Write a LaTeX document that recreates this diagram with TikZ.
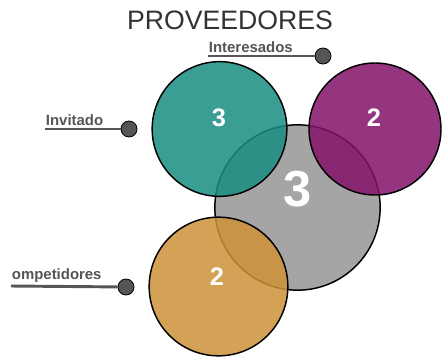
\documentclass[tikz,border=0pt]{standalone}
\usepackage{fontspec}
\setmainfont{Liberation Sans}
\usetikzlibrary{positioning}
\definecolor{verdeazul}{RGB}{24,141,129}
\definecolor{morado}{RGB}{131,18,106}
\definecolor{naranja}{RGB}{205,146,56}
\definecolor{gris}{RGB}{165,165,165}
\definecolor{oscuro}{RGB}{85,85,85}
\tikzset{
	circulo/.style={circle, draw=black, line width=1.1pt, inner sep=0pt}, % Circulos del diagrama
	transp/.style={fill opacity=0.85}, % Circulos que se superponen
	numero/.style={text=white, font=\bfseries\fontsize{19}{19}\selectfont}, % Cifras blancas
	punto/.style={circle, fill=oscuro, draw=black, line width=0.6pt, minimum size=12pt, inner sep=0pt}, % Extremo de la linea
	linea/.style={draw=oscuro, line width=2.2pt}, % Linea de la etiqueta
	etiqueta/.style={text=oscuro, font=\bfseries\fontsize{11.2}{11.2}\selectfont, inner xsep=0.5pt, inner ysep=2.5pt} % Texto sobre la linea
}

\begin{document}
\begin{tikzpicture}[x=0.75pt, y=-0.75pt]
			\useasboundingbox (0,0) rectangle (446,361);
			\node[text=black!80, font=\fontsize{20}{20}\selectfont] (titulo) at (230,20) {PROVEEDORES};
			% circulos
			\node[circulo, fill=gris, minimum size=124pt] (cGris) at (297.5,207.5) {};
			\node[circulo, transp, fill=verdeazul, minimum size=101pt] (cVerde) at (219.5,129) {};
			\node[circulo, transp, fill=morado, minimum size=99pt] (cMorado) at (375,129) {};
			\node[circulo, transp, fill=naranja, minimum size=104pt] (cNaranja) at (218.5,286.5) {};
			% cifras
			\node[numero] (nVerde) at (219,118) {3};
			\node[numero] (nMorado) at (374,118) {2};
			\node[numero] (nNaranja) at (217,277) {2};
			\node[numero, font=\bfseries\fontsize{38}{38}\selectfont] (nGris) at (298,189) {3};
			% etiquetas
			\node[punto] (pInteresados) at (323,56) {};
			\node[punto] (pInvitado) at (129,129) {};
			\node[punto] (pCompetidores) at (126,287) {};
			\coordinate (aInteresados) at (208,56);
			\coordinate (aInvitado) at (45,129);
			\coordinate (aCompetidores) at (11,286);
			\draw[linea] (aInteresados) -- (pInteresados);
			\draw[linea] (aInvitado) -- (pInvitado);
			\draw[linea] (aCompetidores) -- (pCompetidores);
			\node[etiqueta, above right=0pt of aInteresados] (tInteresados) {Interesados};
			\node[etiqueta, above right=0pt of aInvitado] (tInvitado) {Invitado};
			\node[etiqueta, above right=0pt of aCompetidores] (tCompetidores) {ompetidores};
			\end{tikzpicture}
\end{document}
